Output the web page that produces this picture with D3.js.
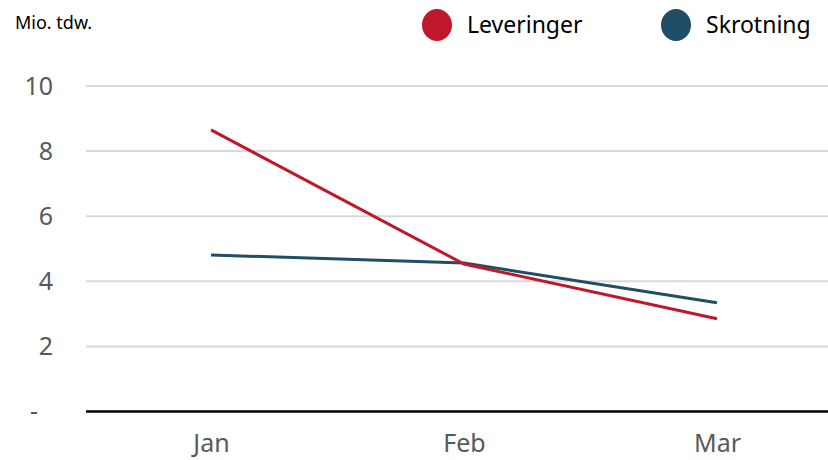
<!DOCTYPE html>
<html lang="no">
<head>
    <meta charset="utf-8">
    <title>Leveringer og skrotning</title>
    <style>
        body { margin: 0; background: #fff; }
        .chart text { font-family: "Noto Sans", sans-serif; fill: #595959; }
        .chart .grid line { stroke: #D9D9D9; stroke-width: 2; }
        .chart .domain { display: none; }
        .chart .tick line { display: none; }
    </style>
</head>
<body>
<div id="chart"></div>
<script src="https://d3js.org/d3.v7.min.js"></script>
<script>
    var months = ["Jan", "Feb", "Mar"];
    var leveringer = [8.65, 4.53, 2.85];
    var skrotning = [4.81, 4.56, 3.34];
    var yTicks = [0, 2, 4, 6, 8, 10];

    var width = 828, height = 460;
    var margin = {left: 86, right: 0, top: 86, bottom: 49};

    var svg = d3.select("#chart").append("svg")
        .attr("class", "chart")
        .attr("width", width)
        .attr("height", height);

    var x = d3.scalePoint().domain(months).range([211, 717]);
    var y = d3.scaleLinear().domain([0, 10]).range([411.5, 86]);

    // gridlines
    svg.append("g").attr("class", "grid")
        .selectAll("line").data(yTicks.filter(function (d) { return d > 0; }))
        .enter().append("line")
        .attr("x1", margin.left).attr("x2", width)
        .attr("y1", function (d) { return y(d); })
        .attr("y2", function (d) { return y(d); });

    // y axis labels (zero shown as a dash, set a bit further left)
    var yAxis = d3.axisLeft(y).tickValues(yTicks).tickSize(0).tickPadding(0)
        .tickFormat(function (d) { return d === 0 ? "-" : d; });
    svg.append("g").attr("transform", "translate(53,0)").call(yAxis)
        .selectAll("text").style("font-size", "25px")
        .attr("dx", function (d) { return d === 0 ? -15 : 0; });

    // baseline
    svg.append("line")
        .attr("x1", margin.left).attr("x2", width)
        .attr("y1", y(0)).attr("y2", y(0))
        .attr("stroke", "#000").attr("stroke-width", 2.5);

    // x axis labels
    var xAxis = d3.axisBottom(x).tickSize(0).tickPadding(23);
    svg.append("g").attr("transform", "translate(0," + y(0) + ")").call(xAxis)
        .selectAll("text").style("font-size", "25px");

    var line = d3.line()
        .x(function (d, i) { return x(months[i]); })
        .y(function (d) { return y(d); });

    var series = [
        {name: "Leveringer", values: leveringer, color: "#C0172B"},
        {name: "Skrotning", values: skrotning, color: "#1F4E66"}
    ];

    // draw skrotning first so leveringer sits on top
    series.slice().reverse().forEach(function (s) {
        svg.append("path")
            .datum(s.values)
            .attr("d", line)
            .attr("fill", "none")
            .attr("stroke", s.color)
            .attr("stroke-width", 3);
    });

    // unit label
    svg.append("text").attr("x", 15).attr("y", 29)
        .style("font-size", "18px").style("fill", "#000")
        .text("Mio. tdw.");

    // legend
    var legendX = [437, 676];
    var legend = svg.selectAll(".legend").data(series).enter().append("g")
        .attr("class", "legend")
        .attr("transform", function (d, i) { return "translate(" + legendX[i] + ",25)"; });
    legend.append("ellipse").attr("rx", 15).attr("ry", 16)
        .attr("fill", function (d) { return d.color; });
    legend.append("text").attr("x", 30).attr("y", 8)
        .style("font-size", "23px").style("fill", "#000")
        .text(function (d) { return d.name; });
</script>
</body>
</html>
